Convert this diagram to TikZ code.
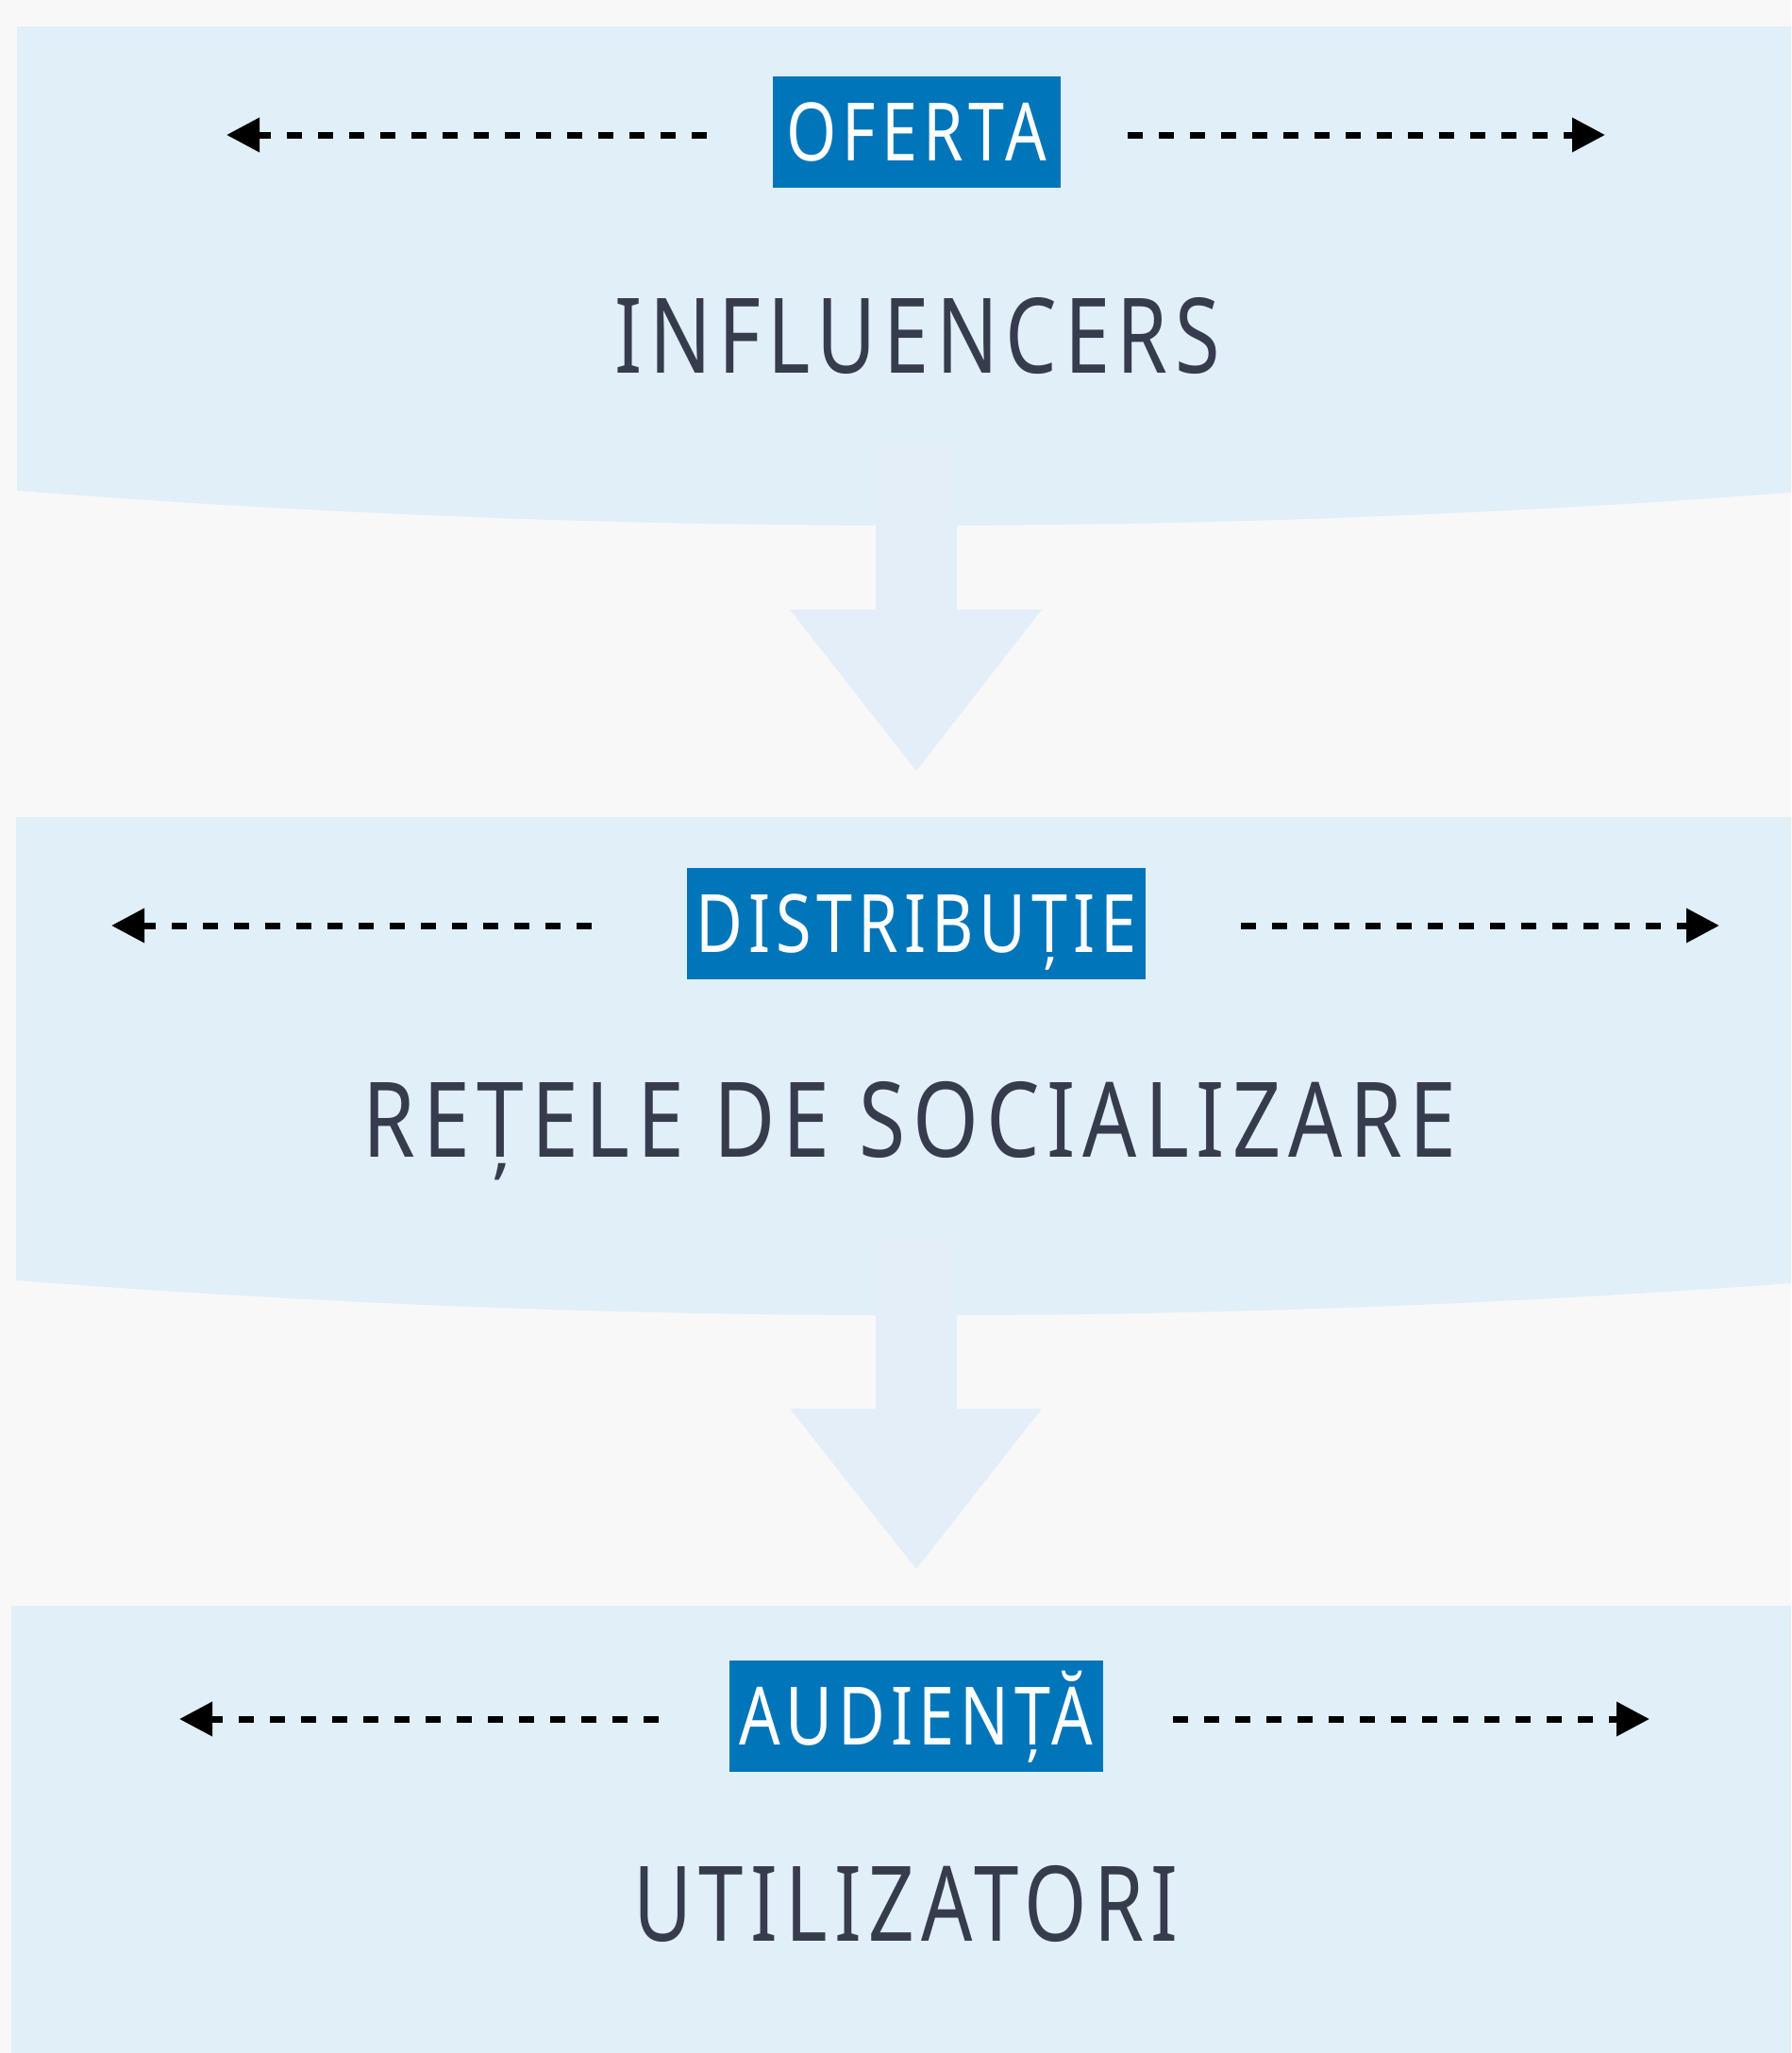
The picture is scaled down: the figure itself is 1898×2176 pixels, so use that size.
\documentclass[tikz,border=0pt]{standalone}
\usepackage{fontspec}
\setmainfont{Noto Sans}[FakeStretch=0.8, LetterSpace=7]
\usetikzlibrary{arrows.meta}
\definecolor{bgc}{HTML}{F8F8F8}
\definecolor{bandc}{HTML}{E1EFF8}
\definecolor{arrc}{HTML}{E4EEF9}
\definecolor{labc}{HTML}{0075B9}
\definecolor{txtc}{HTML}{363B4D}
\tikzset{
  band/.style={fill=bandc, draw=none},
  bigarrow/.style={fill=arrc, draw=none},
  labelbox/.style={fill=labc, text=white, inner sep=0pt, minimum height=118pt,
    text height=61pt, text depth=0pt, font=\fontsize{85.4}{100}\selectfont},
  maintext/.style={text=txtc, inner sep=0pt, text height=79pt, text depth=0pt,
    font=\fontsize{110.6}{130}\selectfont},
  dasharrow/.style={draw=black, line width=7pt, dash pattern=on 16pt off 17pt,
    -{Triangle[length=35pt,width=35pt]}}
}
\begin{document}
\begin{tikzpicture}[x=1pt,y=-1pt]
\useasboundingbox (0,0) rectangle (1898,2176);
\fill[bgc] (0,0) rectangle (1898,2176);
% bands
\fill[band] (18,28) -- (1898,28) -- (1898,522)
  .. controls (1271.3,569.3) and (644.7,568.7) .. (18,520) -- cycle;
\fill[band] (17,866) -- (1898,866) -- (1898,1360)
  .. controls (1271.3,1406.3) and (644.7,1405.7) .. (17,1357) -- cycle;
\fill[band] (12,1702) rectangle (1898,2176);
% big down arrows
\fill[bigarrow] (928,470) -- (1014,470) -- (1014,646) -- (1104,646) -- (971,817)
  -- (837,646) -- (928,646) -- cycle;
\fill[bigarrow] (928,1311) -- (1014,1311) -- (1014,1493) -- (1104,1493) -- (971,1663)
  -- (837,1493) -- (928,1493) -- cycle;
% labels
\node[labelbox, minimum width=305pt] (oferta) at (971.5,140) {OFERTA};
\node[labelbox, minimum width=486pt] (distrib) at (971,979) {DISTRIBUȚIE};
\node[labelbox, minimum width=396pt] (audienta) at (971,1819) {AUDIENȚĂ};
% main texts
\node[maintext] (influencers) at (972,356) {\scalebox{0.978}[1]{INFLUENCERS}};
\node[maintext] (retele) at (964,1187) {\scalebox{1.012}[1]{REȚELE DE SOCIALIZARE}};
\node[maintext] (utilizatori) at (960,2018) {\scalebox{0.962}[1]{UTILIZATORI}};
% dashed arrows
\coordinate (a1ls) at (749,143); \coordinate (a1le) at (240,143);
\coordinate (a1rs) at (1195,143); \coordinate (a1re) at (1701,143);
\coordinate (a2ls) at (627,981); \coordinate (a2le) at (118,981);
\coordinate (a2rs) at (1315,981); \coordinate (a2re) at (1822,981);
\coordinate (a3ls) at (698,1822); \coordinate (a3le) at (190,1822);
\coordinate (a3rs) at (1243,1822); \coordinate (a3re) at (1748,1822);
\draw[dasharrow] (a1ls) -- (a1le);
\draw[dasharrow] (a1rs) -- (a1re);
\draw[dasharrow] (a2ls) -- (a2le);
\draw[dasharrow] (a2rs) -- (a2re);
\draw[dasharrow] (a3ls) -- (a3le);
\draw[dasharrow] (a3rs) -- (a3re);
\end{tikzpicture}
\end{document}
